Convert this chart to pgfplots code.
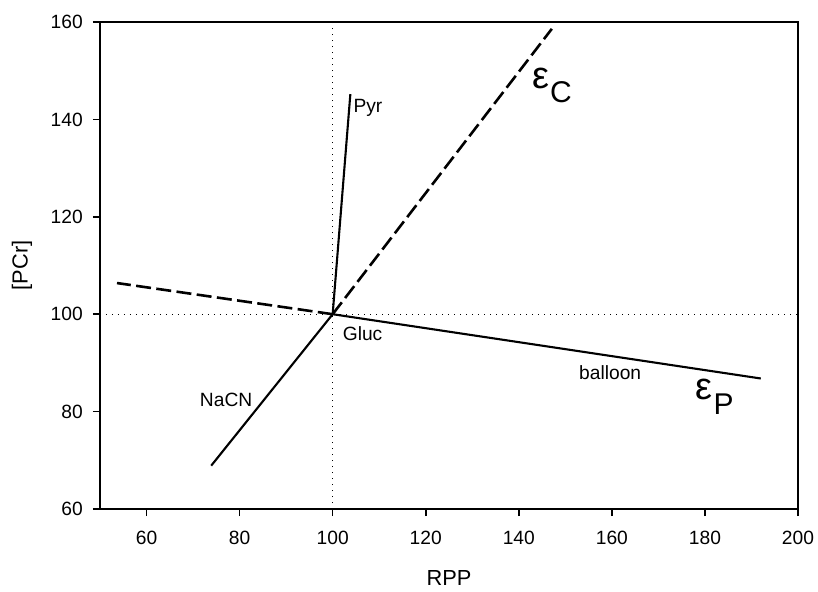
\documentclass[border=0pt]{standalone}
\usepackage{fontspec}
\setmainfont{Liberation Sans}
\usepackage{pgfplots}
\pgfplotsset{compat=1.18}

\begin{document}
\begin{tikzpicture}
% fix the page to the reference proportions (1px = 0.5pt)
\useasboundingbox (-50pt,-41pt) rectangle (359pt,254.5pt);
\begin{axis}[
    at={(0,0)}, anchor=south west,
    scale only axis,
    width=349pt, height=243.5pt,
    xmin=50, xmax=200, ymin=60, ymax=160,
    xtick={60,80,...,200}, ytick={60,80,...,160},
    tick align=outside,
    xtick pos=bottom, ytick pos=left,
    major tick length=3.5pt,
    axis line style={line width=0.8pt},
    every tick/.style={black, line width=0.8pt},
    tick label style={font=\fontsize{9.6}{11}\selectfont},
    xticklabel shift=4.2pt,
    yticklabel shift=1.6pt,
    /pgf/number format/assume math mode=true,
    xlabel={RPP}, ylabel={[PCr]},
    label style={font=\fontsize{10.9}{12}\selectfont},
    xlabel style={at={(axis description cs:0.5,-0.1417)}, anchor=center},
    ylabel style={at={(axis description cs:-0.1117,0.5)}, anchor=center},
    clip=false,
]
% reference lines
\addplot[black, line width=0.6pt, dash pattern=on 0.6pt off 2.4pt] coordinates {(100,60) (100,160)};
\addplot[black, line width=0.6pt, dash pattern=on 0.6pt off 2.4pt] coordinates {(50,100) (200,100)};

% solid branches from the control point
\addplot[black, line width=1.05pt] coordinates {(100,100) (103.8,145.2)}; % Pyr
\addplot[black, line width=1.05pt] coordinates {(100,100) (192.0,86.8)};  % balloon
\addplot[black, line width=1.05pt] coordinates {(100,100) (73.9,68.9)};   % NaCN

% dashed extrapolations
\addplot[black, line width=1.3pt, dash pattern=on 7.5pt off 2.7pt] coordinates {(100,100) (147.1,158.6)};
\addplot[black, line width=1.3pt, dash pattern=on 7.5pt off 2.7pt] coordinates {(100,100) (53.65,106.4)};

\node[anchor=base west, font=\fontsize{9.6}{11}\selectfont, inner sep=0] at (axis cs:104.4,141.5) {Pyr};
\node[anchor=base west, font=\fontsize{9.6}{11}\selectfont, inner sep=0] at (axis cs:102.1,94.7) {Gluc};
\node[anchor=base west, font=\fontsize{9.6}{11}\selectfont, inner sep=0] at (axis cs:71.4,81.1) {NaCN};
\node[anchor=base west, font=\fontsize{9.6}{11}\selectfont, inner sep=0] at (axis cs:152.9,86.5) {balloon};
\node[anchor=base west, inner sep=0] at (axis cs:142.8,146.4)
    {\fontsize{19}{20}\selectfont ε\kern0.5pt\raisebox{-7pt}{\fontsize{15}{16}\selectfont C}};
\node[anchor=base west, inner sep=0] at (axis cs:177.9,82.4)
    {\fontsize{19}{20}\selectfont ε\kern0.5pt\raisebox{-7.5pt}{\fontsize{15}{16}\selectfont P}};
\end{axis}
\end{tikzpicture}
\end{document}
